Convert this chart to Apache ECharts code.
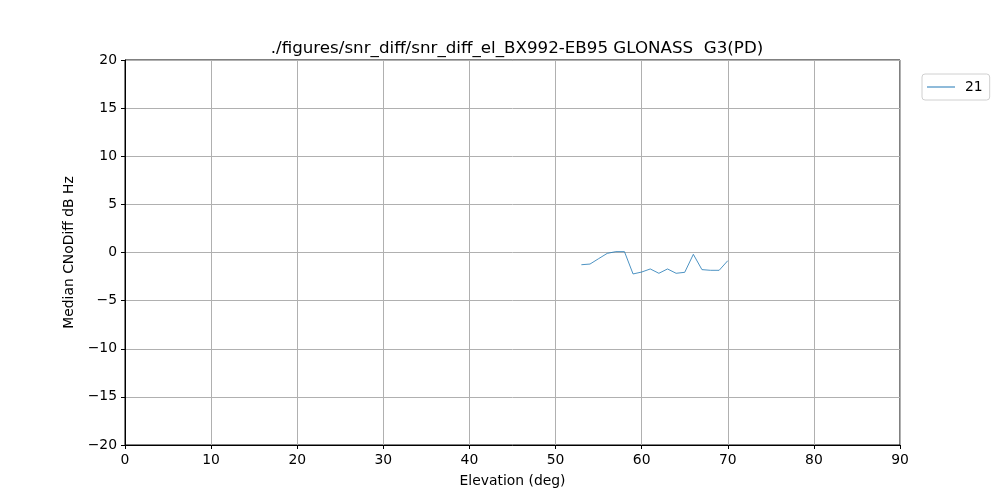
<!DOCTYPE html>
<html>
<head>
<meta charset="utf-8">
<script src="https://cdn.jsdelivr.net/npm/echarts@6/dist/echarts.min.js"></script>
<style>
  html, body { margin: 0; padding: 0; background: #fff; }
  #chart { width: 1000px; height: 500px; }
</style>
</head>
<body>
<div id="chart"></div>
<script>
// elevation (deg) and median CNo diff for satellite 21
var elevation = [53, 54, 55, 56, 57, 58, 59, 60, 61, 62, 63, 64, 65, 66, 67, 68, 69, 70];
var cnoDiff = [-1.27, -1.2, -0.64, -0.09, 0.09, 0.09, -2.23, -2.03, -1.71, -2.16, -1.71, -2.16, -2.06, -0.19, -1.78, -1.85, -1.85, -0.85];
var seriesName = '21';

var chart = echarts.init(document.getElementById('chart'));
var font = 'DejaVu Sans';
var lineColor = '#1f77b4';

// matplotlib style minus sign
function minus(v) { return String(v).replace('-', '\u2212'); }

var option = {
  animation: false,
  title: {
    text: './figures/snr_diff/snr_diff_el_BX992-EB95 GLONASS  G3(PD)',
    left: 512,
    top: 35,
    textAlign: 'center',
    textStyle: { fontFamily: font, fontSize: 16.7, fontWeight: 'normal', color: '#000' }
  },
  legend: {
    data: [seriesName],
    orient: 'vertical',
    left: 922,
    top: 74,
    padding: [6, 7, 6, 5],
    borderColor: '#d0d0d0',
    borderWidth: 1,
    borderRadius: 3,
    icon: 'rect',
    itemWidth: 28,
    itemHeight: 1,
    itemGap: 6,
    textStyle: { fontFamily: font, fontSize: 13.9, color: '#000', padding: [0, 0, 0, 5] }
  },
  grid: {
    left: 125, right: 100, top: 60, bottom: 55,
    show: true,
    borderColor: '#000',
    borderWidth: 1
  },
  xAxis: {
    type: 'value',
    min: 0, max: 90, interval: 10,
    name: 'Elevation (deg)',
    nameLocation: 'middle',
    nameGap: 29,
    nameTextStyle: { fontFamily: font, fontSize: 13.9, color: '#000' },
    axisLine: { show: true, onZero: false, lineStyle: { color: '#000' } },
    axisTick: { show: true, inside: false, length: 4, lineStyle: { color: '#000' } },
    axisLabel: { fontFamily: font, fontSize: 13.9, color: '#000', margin: 8 },
    splitLine: { show: true, lineStyle: { color: '#b0b0b0', width: 1 } }
  },
  yAxis: {
    type: 'value',
    min: -20, max: 20, interval: 5,
    name: 'Median CNoDiff dB Hz',
    nameLocation: 'middle',
    nameGap: 47,
    nameRotate: 90,
    nameTextStyle: { fontFamily: font, fontSize: 13.9, color: '#000' },
    axisLine: { show: true, onZero: false, lineStyle: { color: '#000' } },
    axisTick: { show: true, inside: false, length: 4, lineStyle: { color: '#000' } },
    axisLabel: { fontFamily: font, fontSize: 13.9, color: '#000', margin: 8, formatter: minus },
    splitLine: { show: true, lineStyle: { color: '#b0b0b0', width: 1 } }
  },
  series: [{
    name: seriesName,
    type: 'line',
    symbol: 'none',
    data: elevation.map(function (e, i) { return [e, cnoDiff[i]]; }),
    lineStyle: { color: lineColor, width: 0.8 },
    itemStyle: { color: lineColor }
  }]
};

chart.setOption(option);
</script>
</body>
</html>
